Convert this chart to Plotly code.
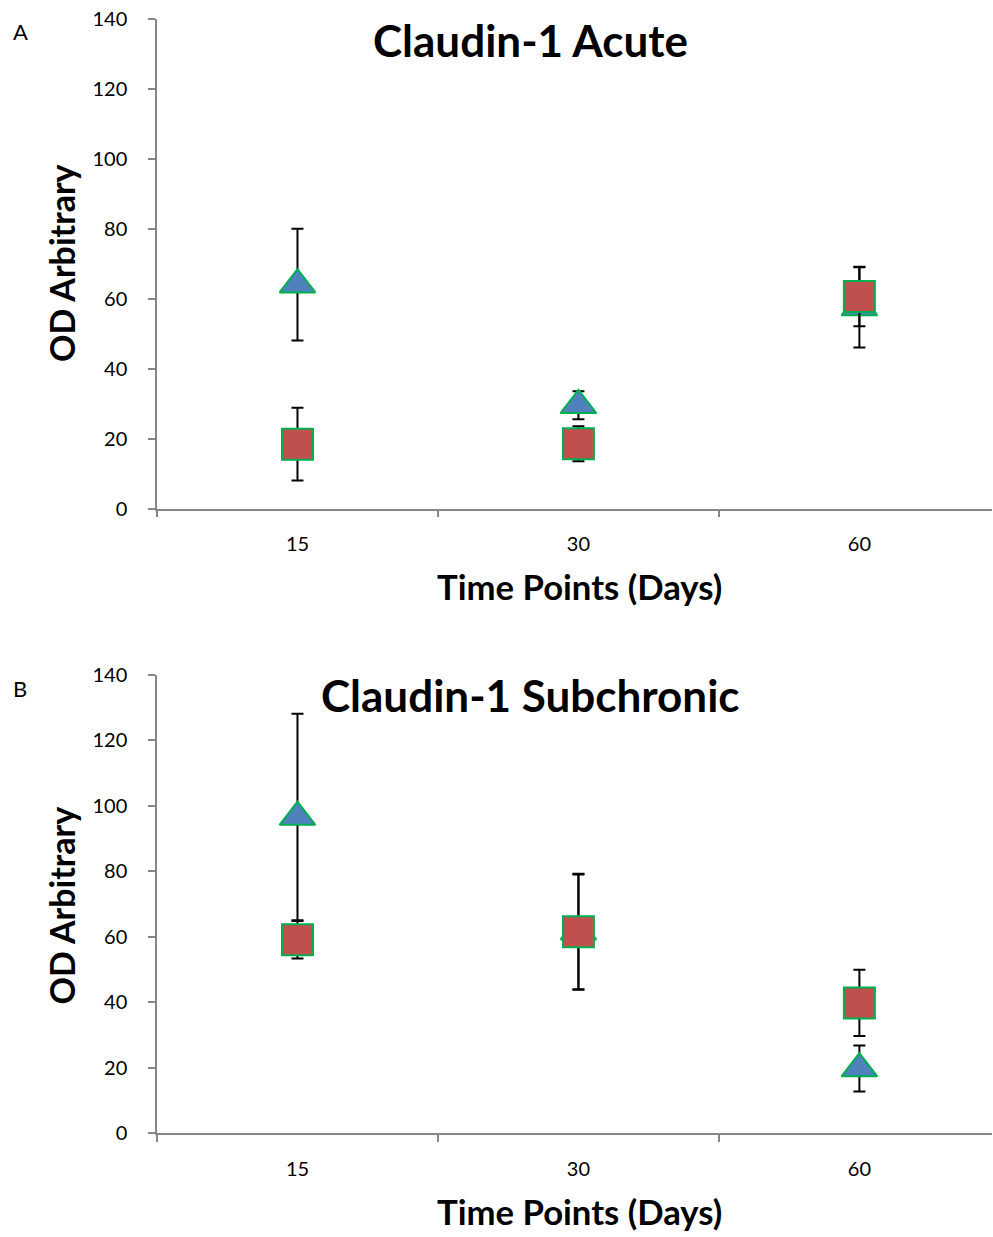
import plotly.graph_objects as go
from plotly.subplots import make_subplots

# Time points (days) and OD readings, mean and error for each group
days = ["15", "30", "60"]

acute_tri = [64, 29.5, 57.5]
acute_tri_err = [16, 4, 11.5]
acute_sq = [18.4, 18.5, 60.6]
acute_sq_err = [10.4, 5, 8.5]

sub_tri = [96.5, 61.5, 19.8]
sub_tri_err = [31.5, 17.5, 7]
sub_sq = [59.1, 61.5, 39.8]
sub_sq_err = [5.7, 17.7, 10.1]

y_ticks = [0, 20, 40, 60, 80, 100, 120, 140]

W, H = 993, 1248
FONT = "Lato"
BLUE = "#4F81BD"
RED = "#C0504D"
GREEN = "#00B050"
AXIS = "#868686"

fig = make_subplots(rows=2, cols=1)


def add_series(row, vals, errs, symbol, color, size):
    fig.add_trace(
        go.Scatter(
            x=days, y=vals, mode="markers",
            marker=dict(symbol=symbol, size=size, color=color,
                        line=dict(color=GREEN, width=2)),
            error_y=dict(type="data", array=errs, visible=True,
                         color="black", thickness=2, width=6),
            showlegend=False, cliponaxis=False,
        ),
        row=row, col=1,
    )


add_series(1, acute_tri, acute_tri_err, "triangle-up", BLUE, 31)
add_series(1, acute_sq, acute_sq_err, "square", RED, 31)
add_series(2, sub_tri, sub_tri_err, "triangle-up", BLUE, 31)
add_series(2, sub_sq, sub_sq_err, "square", RED, 31)


def py(px):
    # pixel row from the top -> paper fraction
    return 1 - px / H


def px_x(px):
    return px / W


x_dom = [px_x(157), px_x(992)]
fig.update_layout(
    width=W, height=H,
    margin=dict(l=0, r=0, t=0, b=0),
    paper_bgcolor="white", plot_bgcolor="white",
    font=dict(family=FONT, color="black"),
    xaxis=dict(domain=x_dom, anchor="y"),
    xaxis2=dict(domain=x_dom, anchor="y2"),
    yaxis=dict(domain=[py(505.3), py(5.8)], anchor="x"),
    yaxis2=dict(domain=[py(1142.4), py(674.5)], anchor="x2"),
)

fig.update_xaxes(
    type="category", range=[-0.5, 2.472], tickson="boundaries",
    ticks="outside", ticklen=7, tickcolor=AXIS, tickwidth=1.5,
    showline=True, linecolor=AXIS, linewidth=1.5, showgrid=False,
    tickfont=dict(size=20, family=FONT), zeroline=False,
    ticklabelstandoff=17,
)
fig.update_yaxes(
    range=[0, 140], tickvals=y_ticks,
    ticks="outside", ticklen=7, tickcolor=AXIS, tickwidth=1.5,
    showline=True, linecolor=AXIS, linewidth=1.5, showgrid=False,
    tickfont=dict(size=20, family=FONT), zeroline=False,
    ticklabelstandoff=17,
)

ann = []


def text(x, y, s, size, bold=False, angle=0):
    ann.append(dict(
        x=px_x(x), y=py(y), xref="paper", yref="paper", text=f"<b>{s}</b>" if bold else s,
        showarrow=False, font=dict(size=size, family=FONT, color="black"),
        xanchor="center", yanchor="middle", textangle=angle,
    ))


text(530, 27.5, "Claudin-1 Acute", 44, bold=True)
text(530, 695, "Claudin-1 Subchronic", 44, bold=True)
text(579, 584.5, "Time Points (Days)", 34.7, bold=True)
text(579, 1222.5, "Time Points (Days)", 34.7, bold=True)
text(61, 255, "OD Arbitrary", 34, bold=True, angle=-90)
text(61, 910, "OD Arbitrary", 34, bold=True, angle=-90)
text(20, 19, "A", 22)
text(20, 689, "B", 22)

fig.update_layout(annotations=ann)
fig.write_html("out.html")
